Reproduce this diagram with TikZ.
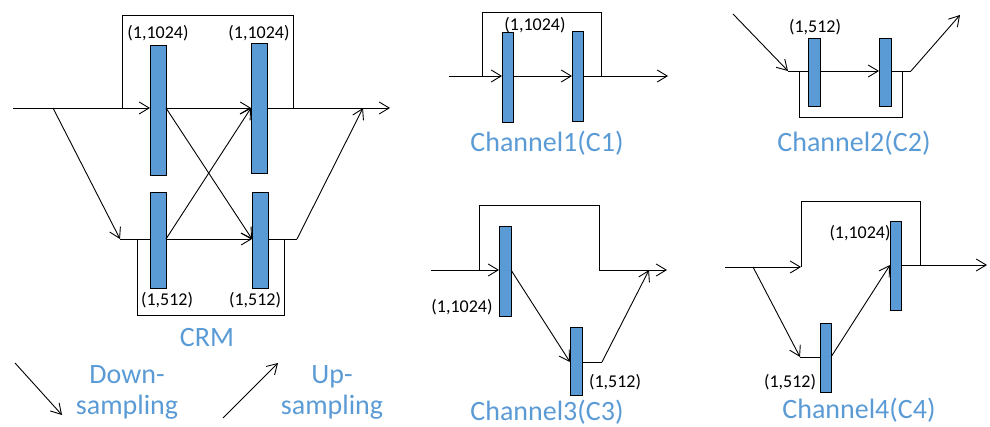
\documentclass[tikz,border=0pt]{standalone}
\usepackage{fontspec}
\setmainfont{Carlito}
\usetikzlibrary{arrows.meta}
\definecolor{officeblue}{HTML}{5B9BD5}
\tikzset{
  ln/.style={line width=0.9pt, draw=black},
  arr/.style={ln, -{Straight Barb[length=10pt,width=12pt,line width=0.9pt]}},
  blk/.style={draw=black, line width=0.9pt, fill=officeblue, inner sep=0pt, outer sep=0pt},
  dimtxt/.style={font=\fontsize{18}{20}\selectfont, inner sep=0pt},
  captxt/.style={font=\fontsize{28}{31}\selectfont, text=officeblue, inner sep=0pt, align=center},
}
\begin{document}
\begin{tikzpicture}[x=1pt,y=-1pt]
\useasboundingbox (0,0) rectangle (990,427);
% ---------------- CRM ----------------
\node[blk, minimum width=16, minimum height=130] (b1) at (158,110) {};
\node[blk, minimum width=16, minimum height=130] (b2) at (259,108) {};
\node[blk, minimum width=16, minimum height=96] (b3) at (158,240) {};
\node[blk, minimum width=16, minimum height=96] (b4) at (260,240) {};
\coordinate (crmIn) at (13,108);
\coordinate (crmS) at (122,108);
\coordinate (crmT1) at (122,15);
\coordinate (crmT2) at (293,15);
\coordinate (crmE) at (293,108);
\coordinate (crmOut) at (390,108);
\coordinate (crmD) at (53,108);
\coordinate (crmL) at (120,239);
\coordinate (crmR) at (297,239);
\coordinate (crmU) at (363,108);
\coordinate (crmB1) at (137,239);
\coordinate (crmB2) at (137,315);
\coordinate (crmB3) at (284,315);
\coordinate (crmB4) at (284,239);
\draw[arr] (crmIn) -- (b1.west |- crmIn);
\draw[ln] (crmS) -- (crmT1) -- (crmT2) -- (crmE);
\draw[arr] (b1.east |- crmIn) -- (b2.west |- crmIn);
\draw[arr] (b2.east |- crmIn) -- (crmOut);
\draw[arr] (crmD) -- (crmL);
\draw[ln] (crmL) -- (b3.west |- crmL);
\draw[arr] (b3.east |- crmL) -- (b4.west |- crmL);
\draw[ln] (b4.east |- crmL) -- (crmR);
\draw[arr] (crmR) -- (crmU);
\draw[ln] (crmB1) -- (crmB2) -- (crmB3) -- (crmB4);
\draw[arr] (b1.east |- crmIn) -- (b4.west |- crmL);
\draw[arr] (b3.east |- crmL) -- (b2.west |- crmIn);
\node[dimtxt] (l1) at (158,33) {(1,1024)};
\node[dimtxt] (l2) at (259,33) {(1,1024)};
\node[dimtxt] (l3) at (167,300) {(1,512)};
\node[dimtxt] (l4) at (255,300) {(1,512)};
\node[captxt] (crm) at (207,338) {CRM};
% legend
\coordinate (dnA) at (15,363);
\coordinate (dnB) at (62,415);
\coordinate (upA) at (223,418);
\coordinate (upB) at (278,363);
\draw[arr] (dnA) -- (dnB);
\draw[arr] (upA) -- (upB);
\node[captxt] (dtxt) at (127,392) {Down-\\sampling};
\node[captxt] (utxt) at (332,392) {Up-\\sampling};
% ---------------- Channel 1 ----------------
\node[blk, minimum width=11, minimum height=90] (c1b1) at (507.5,77) {};
\node[blk, minimum width=11, minimum height=90] (c1b2) at (577.5,76) {};
\coordinate (c1in) at (449,76);
\coordinate (c1s) at (482,76);
\coordinate (c1t1) at (482,12);
\coordinate (c1t2) at (601,12);
\coordinate (c1e) at (601,76);
\coordinate (c1out) at (668,76);
\draw[arr] (c1in) -- (c1b1.west |- c1in);
\draw[ln] (c1s) -- (c1t1) -- (c1t2) -- (c1e);
\draw[arr] (c1b1.east |- c1in) -- (c1b2.west |- c1in);
\draw[arr] (c1b2.east |- c1in) -- (c1out);
\node[dimtxt] (c1l) at (535,25) {(1,1024)};
\node[captxt] (c1cap) at (547,143) {Channel1(C1)};
% ---------------- Channel 2 ----------------
\node[blk, minimum width=12, minimum height=68] (c2b1) at (814,72) {};
\node[blk, minimum width=12, minimum height=68] (c2b2) at (885,72) {};
\coordinate (c2in) at (733,14);
\coordinate (c2a) at (788,71);
\coordinate (c2r) at (911,71);
\coordinate (c2out) at (960,15);
\coordinate (c2k1) at (799,71);
\coordinate (c2k2) at (799,117);
\coordinate (c2k3) at (902,117);
\coordinate (c2k4) at (902,71);
\draw[arr] (c2in) -- (c2a);
\draw[ln] (c2a) -- (c2b1.west |- c2a);
\draw[arr] (c2b1.east |- c2a) -- (c2b2.west |- c2a);
\draw[ln] (c2b2.east |- c2a) -- (c2r);
\draw[arr] (c2r) -- (c2out);
\draw[ln] (c2k1) -- (c2k2) -- (c2k3) -- (c2k4);
\node[dimtxt] (c2l) at (815,27) {(1,512)};
\node[captxt] (c2cap) at (854,143) {Channel2(C2)};
% ---------------- Channel 3 ----------------
\node[blk, minimum width=12, minimum height=90] (c3b1) at (505,271) {};
\node[blk, minimum width=12, minimum height=68] (c3b2) at (576,361) {};
\coordinate (c3in) at (431,270);
\coordinate (c3s) at (479,270);
\coordinate (c3t1) at (479,205);
\coordinate (c3t2) at (599,205);
\coordinate (c3e) at (599,270);
\coordinate (c3out) at (667,270);
\coordinate (c3lo) at (576,362);
\coordinate (c3r) at (602,362);
\coordinate (c3up) at (649,270);
\draw[arr] (c3in) -- (c3b1.west |- c3in);
\draw[ln] (c3s) -- (c3t1) -- (c3t2) -- (c3e);
\draw[arr] (c3e) -- (c3out);
\draw[arr] (c3b1.east |- c3in) -- (c3b2.west |- c3lo);
\draw[ln] (c3b2.east |- c3lo) -- (c3r);
\draw[arr] (c3r) -- (c3up);
\node[dimtxt] (c3l1) at (462,307) {(1,1024)};
\node[dimtxt] (c3l2) at (615,382) {(1,512)};
\node[captxt] (c3cap) at (547,412) {Channel3(C3)};
% ---------------- Channel 4 ----------------
\node[blk, minimum width=11, minimum height=89] (c4b2) at (895.5,265.5) {};
\node[blk, minimum width=11, minimum height=69] (c4b1) at (825.5,357.5) {};
\coordinate (c4in) at (725,267);
\coordinate (c4s) at (801,267);
\coordinate (c4t1) at (801,201);
\coordinate (c4t2) at (920,201);
\coordinate (c4e) at (920,265);
\coordinate (c4out) at (987,265);
\coordinate (c4d) at (753,267);
\coordinate (c4lo) at (800,357);
\draw[arr] (c4in) -- (c4s);
\draw[ln] (c4s) -- (c4t1) -- (c4t2) -- (c4e);
\draw[arr] (c4b2.east |- c4e) -- (c4out);
\draw[arr] (c4d) -- (c4lo);
\draw[ln] (c4lo) -- (c4b1.west |- c4lo);
\draw[arr] (c4b1.east |- c4lo) -- (c4b2.west |- c4e);
\node[dimtxt] (c4l1) at (860,233) {(1,1024)};
\node[dimtxt] (c4l2) at (790,382) {(1,512)};
\node[captxt] (c4cap) at (859,410) {Channel4(C4)};
\end{tikzpicture}
\end{document}
